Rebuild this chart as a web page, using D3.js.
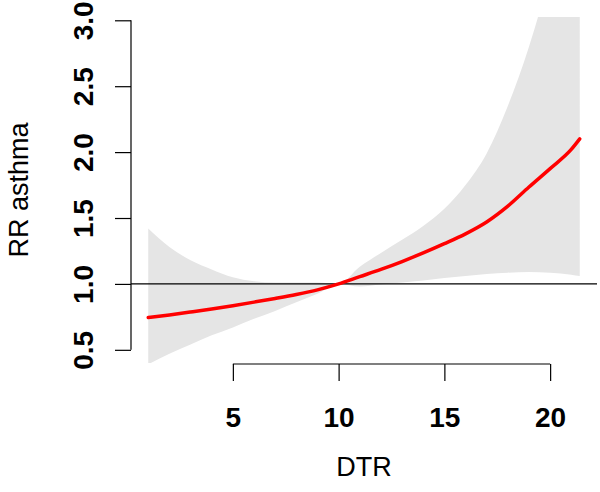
<!DOCTYPE html>
<html>
<head>
<meta charset="utf-8">
<script src="https://cdn.jsdelivr.net/npm/d3@7"></script>
<style>
  body { margin: 0; background: #fff; }
  text { font-family: "Liberation Sans", Arial, Helvetica, sans-serif; fill: #000; }
</style>
</head>
<body>
<div id="chart"></div>
<script>
// DTR values and relative risk of asthma (centred at DTR = 10)
const dtr    = [1, 2, 3, 4, 5, 6, 7, 8, 9, 10, 11, 12, 13, 14, 15, 16, 17, 18, 19, 20, 21, 21.4];
const rr     = [0.745, 0.765, 0.787, 0.81, 0.835, 0.862, 0.89, 0.92, 0.955, 1.0, 1.055, 1.11, 1.17, 1.235, 1.305, 1.38, 1.47, 1.59, 1.735, 1.875, 2.02, 2.10];
const rrLow  = [0.39, 0.47, 0.54, 0.61, 0.67, 0.735, 0.795, 0.86, 0.925, 1.0, 0.98, 0.995, 1.01, 1.025, 1.045, 1.06, 1.075, 1.085, 1.09, 1.085, 1.07, 1.06];
const rrHigh = [1.42, 1.28, 1.18, 1.11, 1.05, 1.02, 1.01, 1.01, 1.01, 1.0, 1.13, 1.235, 1.335, 1.44, 1.57, 1.75, 1.99, 2.35, 2.8, 3.35, 3.95, 4.2];
const xTicks = [5, 10, 15, 20];
const yTicks = [0.5, 1.0, 1.5, 2.0, 2.5, 3.0];
const xLabel = 'DTR';
const yLabel = 'RR asthma';

const width = 600, height = 492;
const margin = { top: 17, right: 3, bottom: 129, left: 131 };

const svg = d3.select('#chart').append('svg').attr('width', width).attr('height', height);
const innerW = width - margin.left - margin.right;
const innerH = height - margin.top - margin.bottom;
const g = svg.append('g').attr('transform', `translate(${margin.left},${margin.top})`);

// R style: 4% padding around the data range
const ext = d3.extent(dtr);
const pad = (ext[1] - ext[0]) * 0.04;
const x = d3.scaleLinear().domain([ext[0] - pad, ext[1] + pad]).range([0, innerW]);
const y = d3.scaleLinear().domain([0.4, 3.025]).range([innerH, 0]);

svg.append('defs').append('clipPath').attr('id', 'clip')
  .append('rect').attr('width', innerW).attr('height', innerH);

const pts = dtr.map((d, i) => ({ x: d, y: rr[i], lo: rrLow[i], hi: rrHigh[i] }));

const plot = g.append('g').attr('clip-path', 'url(#clip)');

const area = d3.area().x(d => x(d.x)).y0(d => y(d.lo)).y1(d => y(d.hi)).curve(d3.curveMonotoneX);
plot.append('path').datum(pts).attr('fill', '#e5e5e5').attr('d', area);

plot.append('line')
  .attr('x1', 0).attr('x2', innerW).attr('y1', y(1)).attr('y2', y(1))
  .attr('stroke', '#000').attr('stroke-width', 1.2);

const line = d3.line().x(d => x(d.x)).y(d => y(d.y)).curve(d3.curveMonotoneX);
plot.append('path').datum(pts).attr('fill', 'none').attr('stroke', '#ff0000')
  .attr('stroke-width', 3.5).attr('stroke-linecap', 'round').attr('d', line);

// axes, R style: line only between first and last tick
const xAxis = g.append('g').attr('transform', `translate(0,${innerH + 1})`)
  .call(d3.axisBottom(x).tickValues(xTicks).tickSize(17).tickPadding(26).tickFormat(d3.format('d')));
const yAxis = g.append('g')
  .call(d3.axisLeft(y).tickValues(yTicks).tickSize(16).tickFormat(d3.format('.1f')));

[xAxis, yAxis].forEach(a => {
  a.select('.domain').remove();
  a.selectAll('.tick line').attr('stroke', '#000').attr('stroke-width', 1.2);
  a.selectAll('.tick text').attr('font-size', 28).attr('font-weight', 'bold')
    .style('font-family', '"Liberation Sans", Arial, sans-serif');
});
xAxis.append('line').attr('x1', x(xTicks[0])).attr('x2', x(xTicks[xTicks.length - 1]))
  .attr('stroke', '#000').attr('stroke-width', 1.2);
yAxis.append('line').attr('y1', y(yTicks[0])).attr('y2', y(yTicks[yTicks.length - 1]))
  .attr('stroke', '#000').attr('stroke-width', 1.2);

yAxis.selectAll('.tick text')
  .attr('x', null).attr('dy', null)
  .attr('text-anchor', 'middle')
  .attr('transform', 'translate(-38,0) rotate(-90)');

svg.append('text').attr('x', margin.left + innerW / 2).attr('y', 476)
  .attr('text-anchor', 'middle').attr('font-size', 27).text(xLabel);
svg.append('text').attr('transform', `translate(28,${margin.top + innerH / 2}) rotate(-90)`)
  .attr('text-anchor', 'middle').attr('font-size', 27).text(yLabel);
</script>
</body>
</html>
